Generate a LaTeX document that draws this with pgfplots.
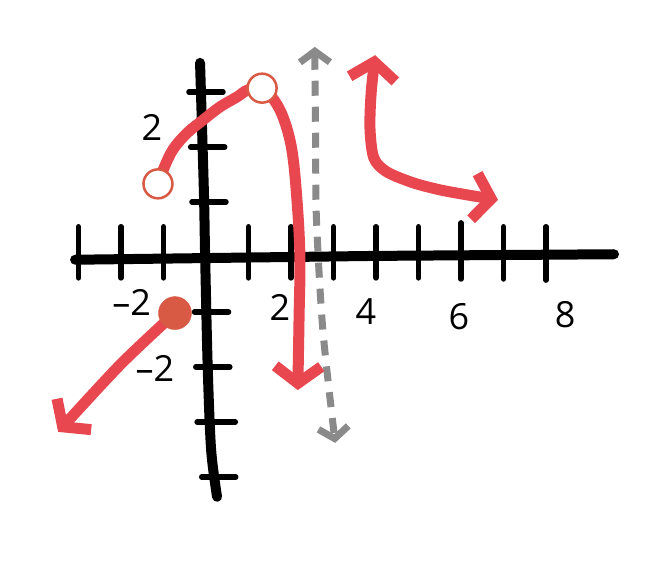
\documentclass[border=0pt]{standalone}
\usepackage{pgfplots}
\pgfplotsset{compat=1.18}
\usetikzlibrary{arrows.meta}
\usepackage{fontspec}
\setmainfont{Open Sans}
\definecolor{crayon}{HTML}{E8474F}
\definecolor{dotred}{HTML}{D85A45}
\definecolor{asym}{HTML}{8A8A8A}
\begin{document}
\begin{tikzpicture}
\begin{axis}[
  width=670pt, height=564pt, scale only axis,
  xmin=-4.847, xmax=10.918, ymin=-5.582, ymax=4.673,
  hide axis, clip=false, unbounded coords=jump,
]
% frame (invisible)
\addplot[draw=none] coordinates {(-4.847,-5.582) (10.918,4.673)};
% axes
\addplot[black, line width=10pt, line cap=round] coordinates {(-3.08,-0.05) (4,0.02) (9.6,0.05)};
\addplot[black, line width=10pt, line cap=round, smooth] coordinates {(-0.14,3.53) (-0.05,1.2) (-0.02,0) (0.04,-2) (0.12,-3.5) (0.26,-4.36)};
% x ticks
\addplot[black, line width=5.5pt, line cap=round] coordinates {
 (-3,-0.38) (-3,0.55) (-3,nan)
 (-2,-0.38) (-2,0.55) (-2,nan)
 (-1,-0.38) (-1,0.55) (-1,nan)
 (1,-0.38) (1,0.55) (1,nan)
 (2,-0.38) (2,0.55) (2,nan)
 (3,-0.38) (3,0.55) (3,nan)
 (4,-0.38) (4,0.55) (4,nan)
 (5,-0.38) (5,0.55) (5,nan)
 (6,-0.40) (6,0.62) (6,nan)
 (7,-0.40) (7,0.55) (7,nan)
 (8,-0.42) (8,0.55)};
% y ticks
\addplot[black, line width=5.5pt, line cap=round] coordinates {
 (-0.40,3) (0.40,3) (nan,3)
 (-0.36,2) (0.44,2) (nan,2)
 (-0.33,1) (0.47,1) (nan,1)
 (-0.27,-1) (0.53,-1) (nan,-1)
 (-0.24,-2) (0.56,-2) (nan,-2)
 (-0.21,-3) (0.69,-3) (nan,-3)
 (-0.10,-4) (0.70,-4)};
% tick labels
\node[font=\fontsize{36}{36}\selectfont] at (axis cs:-1.27,2.35) {2};
\node[font=\fontsize{36}{36}\selectfont] at (axis cs:-1.2,-2.02) {–2};
\node[font=\fontsize{36}{36}\selectfont] at (axis cs:-1.75,-0.82) {–2};
\node[font=\fontsize{36}{36}\selectfont] at (axis cs:1.74,-0.91) {2};
\node[font=\fontsize{36}{36}\selectfont] at (axis cs:3.76,-1.0) {4};
\node[font=\fontsize{36}{36}\selectfont] at (axis cs:5.95,-1.09) {6};
\node[font=\fontsize{36}{36}\selectfont] at (axis cs:8.45,-1.05) {8};
% asymptote
\addplot[asym, line width=7pt, dash pattern=on 15pt off 11pt, smooth,
  {Straight Barb[length=11pt,width=30pt]}-{Straight Barb[length=11pt,width=30pt]}]
  coordinates {(2.56,3.82) (2.58,2) (2.60,0.67) (2.75,-1.33) (3.04,-3.38)};
% left ray
\addplot[crayon, line width=11pt, line cap=round, smooth,
  -{Straight Barb[length=17pt,width=46pt]}]
  coordinates {(-0.73,-1.02) (-2.02,-1.96) (-3.48,-3.18)};
% middle piece
\addplot[crayon, line width=11pt, line cap=round, smooth, tension=0.6,
  -{Straight Barb[length=17pt,width=46pt]}]
  coordinates {(-1.13,1.33) (-1.01,1.58) (-0.78,1.95) (-0.45,2.25) (-0.07,2.49) (0.33,2.73) (0.73,2.91) (0.99,3.04) (1.32,3.07)
   (1.55,2.91) (1.81,2.55) (2.02,1.95) (2.14,1.04) (2.21,0) (2.19,-1.09) (2.17,-2.0) (2.16,-2.42)};
% right piece
\addplot[crayon, line width=11pt, line cap=round, smooth,
  {Straight Barb[length=17pt,width=46pt]}-{Straight Barb[length=17pt,width=46pt]}]
  coordinates {(3.98,3.67) (3.88,2.91) (3.86,2.31) (3.95,1.80) (4.25,1.55) (4.87,1.35) (5.51,1.22) (6.14,1.13) (6.61,1.07) (6.87,1.04)};
% points
\addplot[only marks, mark=*, mark size=16.5pt, color=dotred] coordinates {(-0.73,-1.02)};
\addplot[only marks, mark=*, mark size=14.5pt, draw=dotred, fill=white, line width=2.5pt] coordinates {(-1.13,1.33) (1.32,3.07)};
\end{axis}
\end{tikzpicture}
\end{document}
